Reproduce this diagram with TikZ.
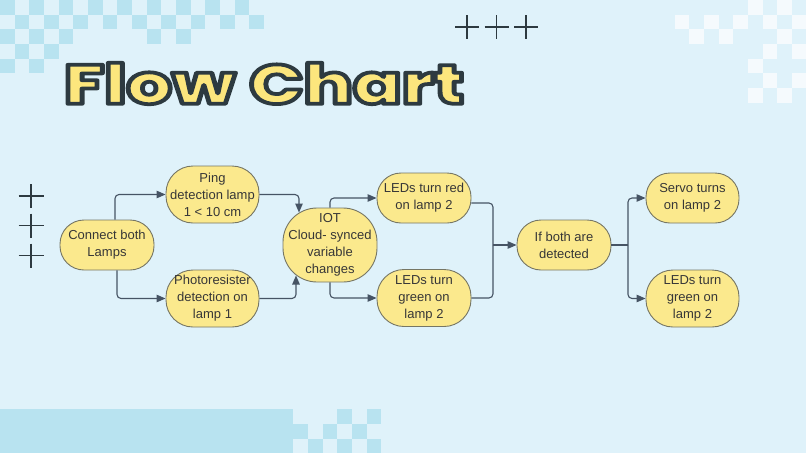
\documentclass[tikz,border=0pt]{standalone}
\usepackage{fontspec}
\setmainfont{Liberation Sans}
\newfontfamily\titlefont{Poppins ExtraBold}
\usetikzlibrary{arrows.meta}
\definecolor{bg}{RGB}{223,242,250}
\definecolor{chk}{RGB}{184,227,240}
\definecolor{wsq}{RGB}{245,250,253}
\definecolor{ink}{RGB}{45,58,64}
\definecolor{boxfill}{RGB}{251,233,141}
\definecolor{boxline}{RGB}{118,118,100}
\definecolor{conncol}{RGB}{70,84,100}
\definecolor{txt}{RGB}{55,55,55}
\definecolor{ttlfill}{RGB}{252,230,125}
\newcommand\ttltext{\resizebox{400pt}{41pt}{\fontsize{53}{60}\selectfont\titlefont Flow Chart}}
\begin{document}
\begin{tikzpicture}[x=1pt,y=-1pt,
  box/.style={draw=boxline, line width=0.9pt, fill=boxfill, rounded corners=24pt,
    minimum width=94pt, minimum height=50pt, align=center, inner sep=0pt,
    text=txt, font=\fontsize{13}{17}\selectfont},
  tallbox/.style={box, minimum height=57pt, rounded corners=27pt},
  link/.style={draw=conncol, line width=1.1pt, rounded corners=4pt},
  conn/.style={link, -{Triangle[length=9pt,width=7.5pt]}},
  plus/.style={draw=ink, line width=1.5pt},
  sq/.style={fill=chk},
  wsqs/.style={fill=wsq}]
\fill[bg] (0,0) rectangle (806,453);
\useasboundingbox (0,0) rectangle (806,453);
% top-left checker
\foreach \c/\r in {0/0,2/0,4/0,6/0,8/0,10/0,12/0,14/0,16/0,
  1/1,3/1,5/1,7/1,9/1,11/1,13/1,15/1,17/1,
  0/2,2/2,4/2,10/2,12/2, 1/3,3/3, 0/4,2/4}
  \fill[sq] ({\c*14.67},{\r*14.67}) rectangle +(14.67,14.67);
% top-right white checker
\foreach \c/\r in {6/0,8/0, 1/1,3/1,5/1,7/1,9/1, 2/2,4/2,8/2, 7/3,9/3, 6/4, 7/5,9/5, 6/6,8/6}
  \fill[wsqs] ({660+\c*14.67},{\r*14.67}) rectangle +(14.67,14.67);
% bottom band and checker
\fill[sq] (0,409.3) rectangle (293.3,453);
\foreach \c/\r in {3/0,5/0, 0/1,2/1,4/1, 1/2,3/2,5/2}
  \fill[sq] ({293.3+\c*14.67},{409.3+\r*14.67}) rectangle +(14.67,14.67);
% plus signs
\foreach \x in {467,496.5,526}
  \draw[plus] (\x-12,27) -- (\x+12,27) (\x,15) -- (\x,39);
\foreach \y in {196,225.5,255.5}
  \draw[plus] (18.5,\y) -- (43.5,\y) (31,\y-12) -- (31,\y+12);
% title (fill + stroke text render mode)
\node[inner sep=0pt, text=ttlfill] (title) at (264,83.5)
  {\special{pdf:literal direct 2 Tr 3.6 w 1 j 0.176 0.227 0.251 RG}\ttltext\special{pdf:literal direct 0 Tr}};
% nodes
\node[box] (n1) at (107,245) {Connect both\\Lamps};
\node[tallbox, minimum width=93pt] (n2) at (212.5,194.5) {Ping\\detection lamp\\1 < 10 cm};
\node[tallbox, minimum width=93pt] (n3) at (212.5,298.5) {Photoresister\\detection on\\lamp 1};
\node[box, minimum height=74pt, rounded corners=34pt] (n4) at (330,245) {IOT\\Cloud- synced\\variable\\changes};
\node[box] (n5) at (424,198) {LEDs turn red\\on lamp 2};
\node[tallbox] (n6) at (424,298) {LEDs turn\\green on\\lamp 2};
\node[box] (n7) at (564,245) {If both are\\detected};
\node[box, minimum width=93pt] (n8) at (692.5,198) {Servo turns\\on lamp 2};
\node[tallbox, minimum width=93pt] (n9) at (692.5,298.5) {LEDs turn\\green on\\lamp 2};
% connector points
\coordinate (t4a) at (299,212.5);
\coordinate (t4b) at (296,275.5);
\coordinate (j1) at (493,245);
\coordinate (j2) at (628,245);
% connectors
\draw[conn] ([xshift=8pt]n1.north) |- (n2.west);
\draw[conn] ([xshift=10pt]n1.south) |- (n3.west);
\draw[conn] (n2.east) -| (t4a);
\draw[conn] (n3.east) -| (t4b);
\draw[conn] (n4.north) |- (n5.west);
\draw[conn] (n4.south) |- (n6.west);
\draw[link] ([yshift=-5pt]n5.east) -| (j1);
\draw[link] (n6.east) -| (j1);
\draw[conn] (j1) -- (n7.west);
\draw[link] (n7.east) -- (j2);
\draw[conn] (j2) |- (n8.west);
\draw[conn] (j2) |- (n9.west);
\end{tikzpicture}
\end{document}
